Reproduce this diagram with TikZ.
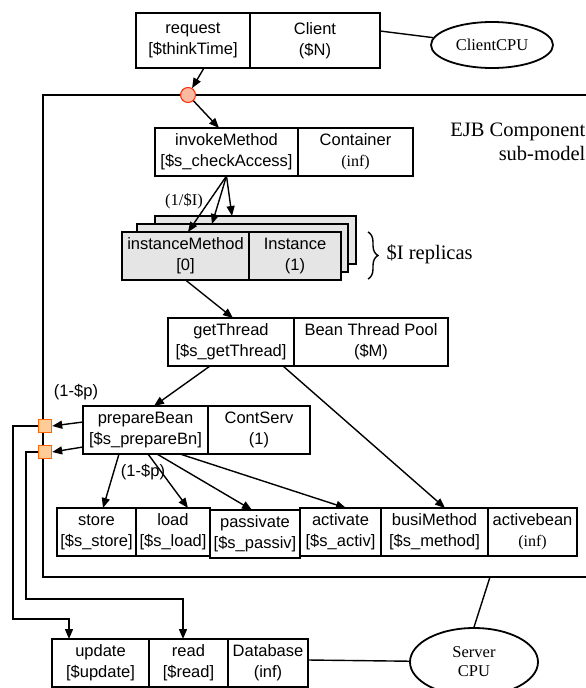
\documentclass[tikz,border=0pt]{standalone}
\usepackage{fontspec}
\setmainfont{Liberation Sans}
\newfontfamily\timesfont{Liberation Serif}
\usetikzlibrary{arrows.meta,shapes.geometric}
\usetikzlibrary{positioning}
\usetikzlibrary{decorations.pathreplacing}
\definecolor{forkfill}{RGB}{250,185,160}
\definecolor{forkline}{RGB}{255,40,0}
\definecolor{joinfill}{RGB}{255,204,153}
\definecolor{joinline}{RGB}{255,102,0}
\definecolor{replicagray}{RGB}{229,229,229}
\tikzset{
	>={Triangle[length=10pt,width=8pt]},
	cell/.style={draw=black, inner sep=0pt, outer sep=0pt, align=center,
		minimum height=48pt, font=\fontsize{16.5}{21}\selectfont},
	replica/.style={cell, fill=replicagray},
	processor/.style={draw=black, ellipse, line width=1.8pt, inner sep=0pt,
		align=center, font=\timesfont\fontsize{16.5}{19}\selectfont},
	forkpoint/.style={circle, draw=forkline, fill=forkfill, line width=1pt,
		minimum size=15pt, inner sep=0pt},
	joinpoint/.style={rectangle, draw=joinline, fill=joinfill, line width=1.4pt,
		minimum size=13pt, inner sep=0pt},
	call/.style={->, draw=black},
	note/.style={inner sep=0pt, font=\fontsize{16.5}{19}\selectfont},
	timesnote/.style={inner sep=0pt, font=\timesfont\fontsize{16.5}{19}\selectfont},
	bignote/.style={inner sep=0pt, align=right, font=\timesfont\fontsize{20.5}{24}\selectfont},
}
\newcommand{\inftxt}{{\timesfont\fontsize{16}{21}\selectfont(inf)}}

\begin{document}
\begin{tikzpicture}[x=1pt, y=-1pt, line width=1.4pt]
	\useasboundingbox (0,0) rectangle (586,688);

	% client
	\node[cell, minimum width=114pt, minimum height=55pt] (request) at (193,40.5) {request\\{}[\$thinkTime]};
	\node[cell, minimum width=130pt, minimum height=55pt, right=0pt of request] (client) {Client\\(\$N)};
	\node[processor, minimum width=122pt, minimum height=46pt] (clientcpu) at (492,45) {ClientCPU};
	\draw ([yshift=9.5pt]client.east) -- (clientcpu);

	% EJB component sub-model
	\draw (586,95) -- (43,95) -- (43,577) -- (586,577);
	\node[bignote, anchor=east] (ejb) at (586,142) {EJB Component\\sub-model};
	\node[forkpoint] (fork) at (188,95) {};
	\draw[call] ([xshift=11pt]request.south) -- (fork);

	\node[cell, minimum width=143pt] (invoke) at (226.5,152) {invokeMethod\\{}[\$s\_checkAccess]};
	\node[cell, minimum width=115pt, right=0pt of invoke] (container) {Container\\\inftxt};
	\draw[call] (fork) -- ([xshift=64pt]invoke.north west);

	\node[replica, minimum width=201pt] (rep2) at (255.5,240) {};
	\node[replica, minimum width=211pt] (rep1) at (242.5,248) {};
	\node[replica, minimum width=127pt] (inst) at (185.5,256) {instanceMethod\\{}[0]};
	\node[replica, minimum width=92pt, right=0pt of inst] (instance) {Instance\\(1)};
	\draw[call] (invoke.south) -- ([xshift=66pt]inst.north west);
	\draw[call] (invoke.south) -- ([xshift=75pt]rep1.north west);
	\draw[call] (invoke.south) -- ([xshift=77pt]rep2.north west);
	\node[timesnote] (lblI) at (184,201) {(1/\$I)};
	\draw[decorate, decoration={brace, amplitude=10pt}] (368,232) -- (368,279);
	\node[bignote, anchor=west] (replicas) at (386,254) {\$I replicas};

	\node[cell, minimum width=126pt] (getthread) at (231,342) {getThread\\{}[\$s\_getThread]};
	\node[cell, minimum width=154pt, right=0pt of getthread] (pool) {Bean Thread Pool\\(\$M)};
	\draw[call] (inst.south) -- ([xshift=65pt]getthread.north west);

	\node[cell, minimum width=125pt] (prepare) at (145.5,430) {prepareBean\\{}[\$s\_prepareBn]};
	\node[cell, minimum width=102pt, right=0pt of prepare] (contserv) {ContServ\\(1)};
	\draw[call] ([xshift=-21pt]getthread.south) -- ([xshift=71pt]prepare.north west);
	\node[note] (lblp1) at (76,392) {(1-\$p)};

	\node[joinpoint] (sq1) at (45,426) {};
	\node[joinpoint] (sq2) at (45,452) {};
	\draw[call] ([yshift=8pt]prepare.west) -- (sq1.east);
	\draw[call] ([yshift=-17pt]prepare.west) -- (sq2.east);

	\node[cell, minimum width=79pt] (store) at (96.5,532) {store\\{}[\$s\_store]};
	\node[cell, minimum width=74pt, right=0pt of store] (load) {load\\{}[\$s\_load]};
	\node[cell, minimum width=90pt, right=0pt of load, yshift=-2pt] (passivate) {passivate\\{}[\$s\_passiv]};
	\node[cell, minimum width=81pt, right=0pt of passivate, yshift=2pt] (activate) {activate\\{}[\$s\_activ]};
	\node[cell, minimum width=107pt, right=0pt of activate] (busi) {busiMethod\\{}[\$s\_method]};
	\node[cell, minimum width=89pt, right=0pt of busi] (activebean) {activebean\\\inftxt};

	\draw[call] ([xshift=36pt]prepare.south west) -- ([xshift=46pt]store.north west);
	\draw[call] ([xshift=65pt]prepare.south west) -- ([xshift=52pt]load.north west);
	\draw[call] ([xshift=74pt]prepare.south west) -- ([xshift=42pt]passivate.north west);
	\draw[call] ([xshift=97pt]prepare.south west) -- ([xshift=46pt]activate.north west);
	\draw[call] ([xshift=-11pt]getthread.south east) -- ([xshift=64pt]busi.north west);
	\node[note] (lblp2) at (143,472) {(1-\$p)};

	% database
	\node[cell, minimum width=97pt] (update) at (100.5,663) {update\\{}[\$update]};
	\node[cell, minimum width=79pt, right=0pt of update] (read) {read\\{}[\$read]};
	\node[cell, minimum width=80pt, right=0pt of read] (database) {Database\\(inf)};
	\coordinate (bendA) at (13,619);
	\coordinate (bendB) at (26,599);
	\draw[call] (sq1.west) -| (bendA) -| ([xshift=17pt]update.north west);
	\draw[call] (sq2.west) -| (bendB) -| ([xshift=34pt]read.north west);

	\node[processor, minimum width=128pt, minimum height=68pt] (servercpu) at (474,662) {Server\\CPU};
	\coordinate (cpulink) at (490,577);
	\draw (cpulink) -- (servercpu.north);
	\draw ([yshift=3pt]database.east) -- (servercpu);
\end{tikzpicture}
\end{document}
